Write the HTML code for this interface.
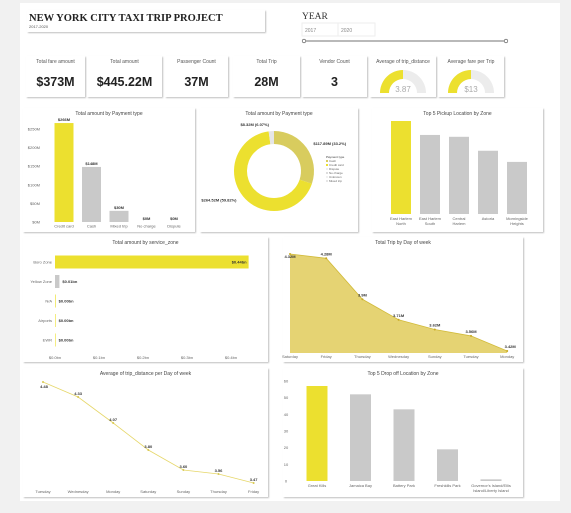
<!DOCTYPE html>
<html><head><meta charset="utf-8"><style>
body{margin:0;background:#f1f1f1;font-family:"Liberation Sans",sans-serif;}
svg text{font-family:"Liberation Sans",sans-serif;}
</style></head><body>
<svg id="s" width="571" height="508" viewBox="0 0 571 508" xmlns="http://www.w3.org/2000/svg">
<defs><filter id="sh" x="-5%" y="-5%" width="110%" height="115%"><feDropShadow dx="1" dy="1" stdDeviation="0.8" flood-color="#000" flood-opacity="0.25"/></filter></defs>
<rect x="20" y="3" width="540" height="498" fill="#fff"/>
<g>
<rect x="27" y="10" width="238" height="22" fill="#fff" filter="url(#sh)"/>
<text x="29" y="21" font-family="Liberation Serif" font-weight="bold" font-size="10.5" fill="#222" style="font-family:'Liberation Serif',serif">NEW YORK CITY TAXI TRIP PROJECT</text>
<text x="29" y="28" font-size="4" fill="#555">2017-2020</text>
</g>
<g>
<text x="302" y="19" font-size="9.5" fill="#333" style="font-family:'Liberation Serif',serif">YEAR</text>
<rect x="302" y="23" width="73" height="13" fill="#fff" stroke="#eee"/>
<line x1="338" y1="23" x2="338" y2="36" stroke="#eee"/>
<text x="305" y="32" font-size="5" fill="#888">2017</text>
<text x="341" y="32" font-size="5" fill="#888">2020</text>
<line x1="304" y1="41" x2="506" y2="41" stroke="#444" stroke-width="0.7"/>
<circle cx="304" cy="41" r="1.8" fill="#fff" stroke="#444" stroke-width="0.6"/>
<circle cx="506" cy="41" r="1.8" fill="#fff" stroke="#444" stroke-width="0.6"/>
</g>
<g id="kpis"></g>
<g id="charts"></g>
</svg>
<script>
var NS="http://www.w3.org/2000/svg";
function el(p,t,a,txt){var e=document.createElementNS(NS,t);for(var k in a)e.setAttribute(k,a[k]);if(txt!=null)e.textContent=txt;p.appendChild(e);return e;}
var C=document.getElementById('charts'),K=document.getElementById('kpis');
var Y='#ece02f',G='#c9c9c9';
function panel(x,y,w,h,title,name){var g=el(C,'g',{});


el(g,'rect',{x:x,y:y,width:w,height:h,fill:'#fff',filter:'url(#sh)'});
if(title)el(g,'text',{x:x+w/2,y:y+7,'font-size':5,'text-anchor':'middle',fill:'#444'},title);return g;}

// KPI cards
var kpiTitles=['Total fare amount','Total amount','Passenger Count','Total Trip','Vendor Count'];
var kpiValues=['$373M','$445.22M','37M','28M','3'];
var kx=[26,87,165,233,302],kw=[59,75,63,67,65];
for(var i=0;i<5;i++){var g=el(K,'g',{});


el(g,'rect',{x:kx[i],y:56,width:kw[i],height:41,fill:'#fff',filter:'url(#sh)'});
el(g,'text',{x:kx[i]+kw[i]/2,y:63,'font-size':5,'text-anchor':'middle',fill:'#555'},kpiTitles[i]);
el(g,'text',{x:kx[i]+kw[i]/2,y:86,'font-size':12.5,'font-weight':'bold','text-anchor':'middle',fill:'#222'},kpiValues[i]);}
var gaugeTitles=['Average of trip_distance','Average fare per Trip'];
var gaugeValues=[3.87,13],gaugeMax=[7.74,26],gaugeLabels=['3.87','$13'];
var gx=[370,438];
for(var i=0;i<2;i++){var g=el(K,'g',{});


el(g,'rect',{x:gx[i],y:56,width:66,height:41,fill:'#fff',filter:'url(#sh)'});
el(g,'text',{x:gx[i]+33,y:63,'font-size':5,'text-anchor':'middle',fill:'#555'},gaugeTitles[i]);
var cx=gx[i]+33,cy=93,R=23,r=14;
function arc(a0,a1,col){var p=function(rr,a){return [cx-rr*Math.cos(a),cy-rr*Math.sin(a)];};
var A=p(R,a0),B=p(R,a1),Cc=p(r,a1),D=p(r,a0);
el(g,'path',{d:'M'+A+' A'+R+','+R+' 0 0 1 '+B+' L'+Cc+' A'+r+','+r+' 0 0 0 '+D+' Z',fill:col});}
var f=gaugeValues[i]/gaugeMax[i];
arc(0,Math.PI,'#ececec');arc(0,Math.PI*f,Y);
el(g,'text',{x:cx,y:92,'font-size':8,'text-anchor':'middle',fill:'#aaa'},gaugeLabels[i]);}

// Chart 1: payment bar
var payCats=['Credit card','Cash','Mixed trip','No charge','Dispute'];
var payVals=[266,148,30,0,0];
var payLabels=['$266M','$148M','$30M','$0M','$0M'];
var payTicks=[0,50,100,150,200,250];
(function(){var g=panel(23,108,172,124,'Total amount by Payment type','bar-chart-payment');
var y=function(v){return 222-v*(93/250);},x0=64,dx=27.5;
payTicks.forEach(function(t){el(g,'text',{x:40,y:y(t)+1.5,'font-size':4,'text-anchor':'end',fill:'#666'},'$'+t+'M');});
payVals.forEach(function(v,i){var cx=x0+i*dx;var b=el(g,'rect',{x:cx-9.5,y:y(v),width:19,height:Math.max(222-y(v),0),fill:i==0?Y:G});


el(g,'text',{x:cx,y:y(v)-2,'font-size':4,'font-weight':'bold','text-anchor':'middle',fill:'#333'},payLabels[i]);
el(g,'text',{x:cx,y:227.5,'font-size':4,'text-anchor':'middle',fill:'#666'},payCats[i]);});})();

// Chart 2: donut
var donutCats=['Cash','Credit card','Dispute','No charge','Unknown','Mixed trip'];
var donutVals=[117.89,264.52,0.01,0.01,0.01,8.32];
var donutLabels=['$117.89M (33.2%)','$264.52M (59.82%)','','','','$8.32M (6.07%)'];
var donutCols=['#d8cc5e',Y,'#eee','#ddd','#f0f0f0','#e6e6e6'];
(function(){var g=panel(200,108,158,124,'Total amount by Payment type','donut-chart-payment');
var cx=274,cy=171,R=40,r=27,tot=donutVals.reduce(function(a,b){return a+b;},0),a=-Math.PI/2;
donutVals.forEach(function(v,i){var a1=a+v/tot*2*Math.PI;var P=function(rr,t){return [cx+rr*Math.cos(t),cy+rr*Math.sin(t)];};
var lg=(a1-a)>Math.PI?1:0;
var s=el(g,'path',{d:'M'+P(R,a)+' A'+R+','+R+' 0 '+lg+' 1 '+P(R,a1)+' L'+P(r,a1)+' A'+r+','+r+' 0 '+lg+' 0 '+P(r,a)+' Z',fill:donutCols[i]});


if(donutLabels[i]){var m=(a+a1)/2,L=P(R+6,m);var right=Math.cos(m)>=0;
el(g,'text',{x:L[0]+(right?2:-2),y:L[1]+1,'font-size':4,'font-weight':'bold','text-anchor':right?'start':'end',fill:'#333'},donutLabels[i]);}
a=a1;});
el(g,'text',{x:326,y:158,'font-size':3,fill:'#333'},'Payment type');
['Cash','Credit card','Dispute','No charge','Unknown','Mixed trip'].forEach(function(n,i){el(g,'rect',{x:326,y:160+i*4,width:2,height:2,fill:donutCols[i]});el(g,'text',{x:329,y:162+i*4,'font-size':3,fill:'#666'},n);});})();

// Chart 3: pickup
var puCats=[['East Harlem','North'],['East Harlem','South'],['Central','Harlem'],['Astoria',''],['Morningside','Heights']];
var puVals=[100,85,83,68,56];
(function(){var g=panel(372,108,171,124,'Top 5 Pickup Location by Zone','bar-chart-pickup');
var y=function(v){return 214-v*0.93;};
puVals.forEach(function(v,i){var cx=401+i*29;var b=el(g,'rect',{x:cx-10,y:y(v),width:20,height:214-y(v),fill:i==0?Y:G});


el(g,'text',{x:cx,y:220,'font-size':4,'text-anchor':'middle',fill:'#666'},puCats[i][0]);
el(g,'text',{x:cx,y:225,'font-size':4,'text-anchor':'middle',fill:'#666'},puCats[i][1]);});})();

// Chart 4: service zone
var szCats=['Boro Zone','Yellow Zone','N/A','Airports','EWR'];
var szVals=[0.44,0.01,0.0015,0.001,0.0005];
var szLabels=['$0.44bn','$0.01bn','$0.00bn','$0.00bn','$0.00bn'];
var szTicks=[0,0.1,0.2,0.3,0.4];
(function(){var g=panel(23,237,245,125,'Total amount by service_zone','hbar-chart-service-zone');
var x=function(v){return 55+v*440;};
szTicks.forEach(function(t){el(g,'text',{x:x(t),y:359,'font-size':4,'text-anchor':'middle',fill:'#666'},'$'+t.toFixed(1)+'bn');});
szVals.forEach(function(v,i){var cy=262+i*19.5;var w=Math.max(x(v)-55,0.6);
var b=el(g,'rect',{x:55,y:cy-6.5,width:w,height:13,fill:i==0?Y:(i==1?G:Y)});


el(g,'text',{x:52,y:cy+1.5,'font-size':4,'text-anchor':'end',fill:'#666'},szCats[i]);
var inside=i==0;el(g,'text',{x:inside?x(v)-2:55+w+3,y:cy+1.5,'font-size':4,'font-weight':'bold','text-anchor':inside?'end':'start',fill:'#333'},szLabels[i]);});})();

// Chart 5: trips by day area
var tdDays=['Saturday','Friday','Thursday','Wednesday','Sunday','Tuesday','Monday'];
var tdVals=[4.32,4.28,3.90,3.71,3.62,3.56,3.42];
(function(){var g=panel(283,237,240,125,'Total Trip by Day of week','area-chart-trips-day');
var x=function(i){return 290+i*36.2;},y=function(v){return 254+(4.32-v)*107.8;};
var pts=tdVals.map(function(v,i){return x(i)+','+y(v);});
var a=el(g,'path',{d:'M'+x(0)+',353 L'+pts.join(' L')+' L'+x(6)+',353 Z',fill:'#e5d373'});


el(g,'polyline',{points:pts.join(' '),fill:'none',stroke:'#d2bb3a','stroke-width':0.8});
tdVals.forEach(function(v,i){el(g,'circle',{cx:x(i),cy:y(v),r:1,fill:'#c8a920'});
el(g,'text',{x:x(i)+(i==6?3:0),y:y(v)-(i==0?-4:3),'font-size':4,'font-weight':'bold','text-anchor':'middle',fill:'#333'},v.toFixed(2).replace(/0$/,'')+'M');
el(g,'text',{x:x(i),y:358,'font-size':4,'text-anchor':'middle',fill:'#666'},tdDays[i]);});})();

// Chart 6: avg distance line
var adDays=['Tuesday','Wednesday','Monday','Saturday','Sunday','Thursday','Friday'];
var adVals=[4.48,4.33,4.07,3.80,3.60,3.56,3.47];
(function(){var g=panel(23,368,245,129,'Average of trip_distance per Day of week','line-chart-avg-distance');
var x=function(i){return 43+i*35.1;},y=function(v){return 382+(4.48-v)*100;};
var pts=adVals.map(function(v,i){return x(i)+','+y(v);});
var l=el(g,'polyline',{points:pts.join(' '),fill:'none',stroke:'#e6d76a','stroke-width':0.8});


adVals.forEach(function(v,i){el(g,'circle',{cx:x(i),cy:y(v),r:1,fill:'#d8c850'});
el(g,'text',{x:x(i)+(i==0?1:0),y:y(v)+(i==0?6:-2),'font-size':4,'font-weight':'bold','text-anchor':'middle',fill:'#333'},v.toFixed(2));
el(g,'text',{x:x(i),y:493,'font-size':4,'text-anchor':'middle',fill:'#666'},adDays[i]);});})();

// Chart 7: dropoff
var doCats=[['Great Kills',''],['Jamaica Bay',''],['Battery Park',''],['Freshkills Park',''],["Governor's Island/Ellis","Island/Liberty Island"]];
var doVals=[57,52,43,19,1];
var doTicks=[0,10,20,30,40,50,60];
(function(){var g=panel(283,368,240,129,'Top 5 Drop off Location by Zone','bar-chart-dropoff');
var y=function(v){return 481-v*(100/60);};
doTicks.forEach(function(t){el(g,'text',{x:282+4,y:y(t)+1.5,'font-size':4,'text-anchor':'middle',fill:'#666'},t);});
doVals.forEach(function(v,i){var cx=317+i*43.5;var b=el(g,'rect',{x:cx-10.5,y:y(v),width:21,height:481-y(v),fill:i==0?Y:G});


el(g,'text',{x:cx,y:487,'font-size':4,'text-anchor':'middle',fill:'#666'},doCats[i][0]);
el(g,'text',{x:cx,y:492,'font-size':4,'text-anchor':'middle',fill:'#666'},doCats[i][1]);});})();
</script>
</body></html>
